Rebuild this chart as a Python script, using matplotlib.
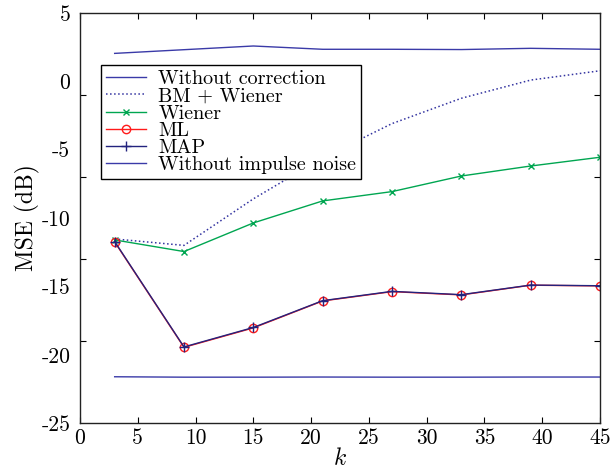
import matplotlib
matplotlib.use("Agg")
import matplotlib.pyplot as plt

plt.rcParams['font.family'] = 'serif'
plt.rcParams['font.serif'] = ['cmr10']
plt.rcParams['mathtext.fontset'] = 'cm'
plt.rcParams['axes.unicode_minus'] = False

# data
k = [3, 9, 15, 21, 27, 33, 39, 45]
without_correction = [2.03, 2.3, 2.57, 2.33, 2.33, 2.31, 2.40, 2.33]
bm_wiener = [-11.53, -12.0, -8.6, -5.6, -3.1, -1.25, 0.08, 0.76]
wiener = [-11.6, -12.45, -10.36, -8.75, -8.07, -6.93, -6.2, -5.56]
ml = [-11.75, -19.45, -18.03, -16.06, -15.38, -15.62, -14.91, -14.96]
map_est = [-11.72, -19.42, -18.0, -16.04, -15.36, -15.6, -14.9, -14.95]
without_impulse = [-21.6, -21.63, -21.63, -21.62, -21.63, -21.63, -21.62, -21.62]

ytick_vals = [-25, -20, -15, -10, -5, 0, 5]
ytick_labels = ['-25', '-20', '-15', '-10', '-5', '0', '5']
xtick_vals = [0, 5, 10, 15, 20, 25, 30, 35, 40, 45]

fig = plt.figure(figsize=(6.13, 4.72), dpi=100)
ax = fig.add_axes([0.1305, 0.1032, 0.8483, 0.8698])

ax.plot(k, without_correction, color='#3a3aa8', lw=1.0, label='Without correction')
ax.plot(k, bm_wiener, color='#3333a0', lw=1.1, ls=':', label='BM + Wiener')
ax.plot(k, wiener, color='#00a651', lw=1.0, marker='x', ms=4.5, mew=1.0,
        label='Wiener')
ax.plot(k, ml, color='#ff1a1a', lw=1.0, marker='o', ms=6, mfc='none', mew=1.0,
        label='ML')
ax.plot(k, map_est, color='#23237e', lw=1.0, marker='+', ms=6.5, mew=1.0,
        label='MAP')
ax.plot(k, without_impulse, color='#3a3aa8', lw=1.0, label='Without impulse noise')

ax.set_xlim(0, 45)
ax.set_ylim(-25, 5)

ax.set_xticks(xtick_vals)
ax.set_xticklabels([str(v) for v in xtick_vals])
ax.set_yticks(ytick_vals)
ax.set_yticklabels(ytick_labels)
# tick marks on the y axis sit at odd positions in the original
ax.set_yticks([-19, -13, -7, -1], minor=True)

ax.tick_params(axis='x', which='major', direction='in', top=True, bottom=True,
               length=4, width=0.8, labelsize=15.5, pad=4)
ax.tick_params(axis='y', which='major', length=0, labelsize=15.5, pad=7)
ax.tick_params(axis='y', which='minor', direction='in', left=True, right=True,
               length=4, width=0.8)

for s in ax.spines.values():
    s.set_linewidth(1.0)
    s.set_color('#222222')

ax.set_xlabel('$k$', fontsize=17, labelpad=0)
ax.set_ylabel('MSE (dB)', fontsize=17, labelpad=1)

leg = ax.legend(loc='upper left', bbox_to_anchor=(0.04, 0.872), fontsize=14.5,
                frameon=True, fancybox=False, edgecolor='black', framealpha=1,
                borderaxespad=0, handlelength=2.0, handletextpad=0.6,
                labelspacing=-0.05, borderpad=0.25)
leg.get_frame().set_linewidth(1.0)

fig.savefig('out.png', dpi=100)
